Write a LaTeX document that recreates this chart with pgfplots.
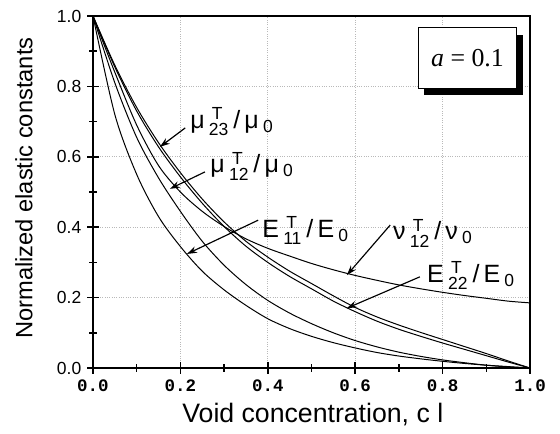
\documentclass[border=0pt]{standalone}
\usepackage{fontspec}
\setmainfont{Liberation Sans}
\newfontfamily\courfont{Liberation Mono}
\newfontfamily\timesfont{Liberation Serif}
\usepackage{amsmath}
\usepackage{pgfplots}
\pgfplotsset{compat=1.18}
\usetikzlibrary{arrows.meta}

% label of the form  X_{ij}^T / X_0
\newcommand{\lab}[4]{#1\,$_{\text{#2}}^{\,\text{T}}$\,/\,#3\,$_{\text{#4}}$}

\begin{document}
\begin{tikzpicture}
\begin{axis}[
    scale only axis,
    width=262.2pt, height=211.2pt,
    xmin=0, xmax=1, ymin=0, ymax=1,
    xtick={0,0.2,0.4,0.6,0.8,1.0},
    ytick={0,0.2,0.4,0.6,0.8,1.0},
    minor x tick num=1, minor y tick num=1,
    xtick pos=bottom, ytick pos=left,
    tick align=center,
    major tick length=7pt, minor tick length=4.5pt,
    every tick/.style={black, line width=0.9pt},
    axis line style={line width=1.2pt},
    grid=major,
    grid style={gray!55, densely dotted, line width=0.4pt},
    /pgf/number format/fixed,
    /pgf/number format/fixed zerofill,
    /pgf/number format/precision=1,
    /pgf/number format/assume math mode=true,
    xticklabel style={font=\courfont\bfseries\fontsize{10.5}{12}\selectfont},
    yticklabel style={font=\fontsize{10.5}{12}\selectfont},
    xlabel={Void concentration, c l},
    ylabel={Normalized elastic constants},
    every axis x label/.style={at={(axis description cs:0.503,-0.131)}, anchor=center,
        font=\fontsize{16}{19}\selectfont},
    every axis y label/.style={at={(axis description cs:-0.158,0.511)}, anchor=center,
        rotate=90, font=\fontsize{14.2}{17}\selectfont},
]
% E11^T/E0
\addplot[black, line width=0.6pt, smooth] table {
0 1
0.05 0.72
0.1 0.55
0.15 0.43
0.2 0.345
0.25 0.275
0.3 0.222
0.35 0.178
0.4 0.14
0.45 0.112
0.5 0.09
0.55 0.072
0.6 0.057
0.65 0.044
0.7 0.034
0.75 0.026
0.8 0.019
0.85 0.013
0.9 0.008
0.95 0.004
1 0
};
% mu12^T/mu0
\addplot[black, line width=0.6pt, smooth] table {
0 1
0.05 0.81
0.1 0.655
0.15 0.54
0.2 0.445
0.25 0.36
0.3 0.292
0.35 0.237
0.4 0.192
0.45 0.156
0.5 0.126
0.55 0.1
0.6 0.078
0.65 0.06
0.7 0.045
0.75 0.033
0.8 0.023
0.85 0.015
0.9 0.008
0.95 0.003
1 0
};
% nu12^T/nu0
\addplot[black, line width=0.6pt, smooth] table {
0 1
0.05 0.84
0.1 0.69
0.15 0.575
0.2 0.5
0.25 0.445
0.3 0.402
0.35 0.367
0.4 0.34
0.45 0.318
0.5 0.297
0.55 0.279
0.6 0.263
0.65 0.249
0.7 0.236
0.75 0.225
0.8 0.215
0.85 0.206
0.9 0.198
0.95 0.19
1 0.185
};
% E22^T/E0
\addplot[black, line width=0.6pt, smooth] table {
0 1
0.05 0.855
0.1 0.73
0.15 0.628
0.2 0.543
0.25 0.468
0.3 0.402
0.35 0.346
0.4 0.3
0.45 0.26
0.5 0.225
0.55 0.19
0.6 0.16
0.65 0.133
0.7 0.11
0.75 0.09
0.8 0.071
0.85 0.053
0.9 0.035
0.95 0.017
1 0
};
% mu23^T/mu0
\addplot[black, line width=0.6pt, smooth] table {
0 1
0.05 0.86
0.1 0.74
0.15 0.64
0.2 0.555
0.25 0.48
0.3 0.415
0.35 0.36
0.4 0.315
0.45 0.275
0.5 0.24
0.55 0.205
0.6 0.172
0.65 0.145
0.7 0.122
0.75 0.101
0.8 0.081
0.85 0.061
0.9 0.041
0.95 0.02
1 0
};

% labels and arrows
\tikzset{lbl/.style={anchor=base west, inner sep=0pt, font=\fontsize{15}{18}\selectfont},
         arr/.style={line width=0.7pt, -{Stealth[length=6pt,width=4pt]}}}
\node[lbl] at (axis cs:0.222,0.68) {\lab{μ}{23}{μ}{0}};
\draw[arr] (axis cs:0.211,0.682) -- (axis cs:0.153,0.628);
\node[lbl] at (axis cs:0.268,0.554) {\lab{μ}{12}{μ}{0}};
\draw[arr] (axis cs:0.256,0.557) -- (axis cs:0.176,0.509);
\node[lbl] at (axis cs:0.387,0.372) {\lab{E}{11}{E}{0}};
\draw[arr] (axis cs:0.378,0.42) -- (axis cs:0.215,0.324);
\node[lbl] at (axis cs:0.686,0.364) {\lab{ν}{12}{ν}{0}};
\draw[arr] (axis cs:0.68,0.406) -- (axis cs:0.581,0.264);
\node[lbl] at (axis cs:0.764,0.244) {\lab{E}{22}{E}{0}};
\draw[arr] (axis cs:0.748,0.259) -- (axis cs:0.581,0.17);

% parameter box with shadow
\fill[black] (axis cs:0.757,0.775) rectangle (axis cs:0.983,0.946);
\draw[fill=white, line width=0.6pt] (axis cs:0.744,0.795) rectangle (axis cs:0.970,0.966);
\node[font=\timesfont\fontsize{15.5}{18}\selectfont] at (axis cs:0.857,0.88) {\textit{a} = 0.1};
\end{axis}
\pgfresetboundingbox
\path ([shift={(-55.8pt,-39pt)}]current axis.south west) rectangle ([shift={(18pt,9.6pt)}]current axis.north east);
\end{tikzpicture}
\end{document}
